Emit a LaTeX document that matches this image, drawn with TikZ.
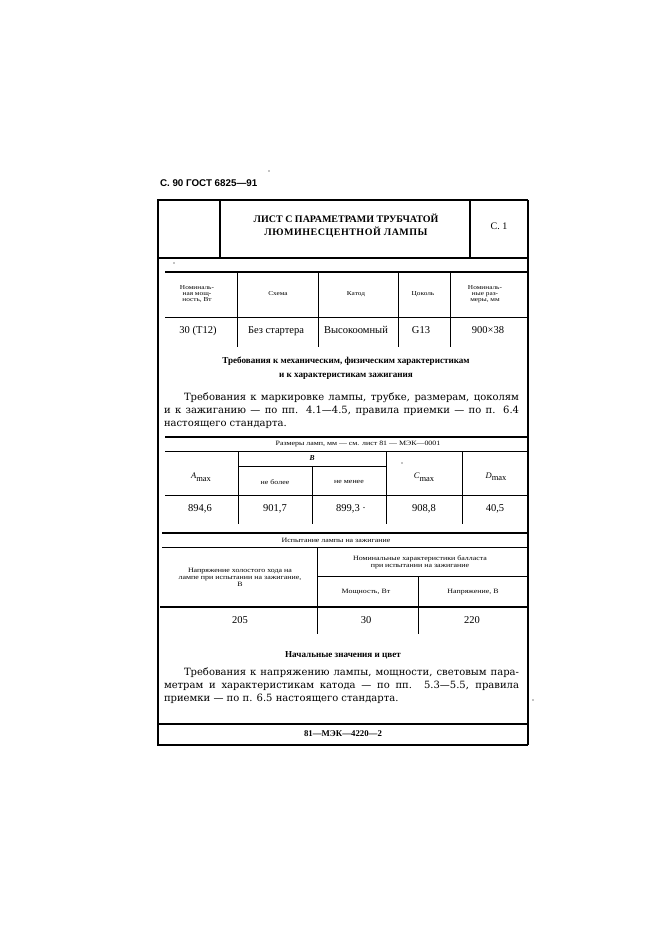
\documentclass[tikz,border=0pt]{standalone}
\usepackage{fontspec}
\setmainfont{Liberation Serif}
\newfontfamily\bodyf{DejaVu Serif}
\newfontfamily\titf{Liberation Sans}
\newfontfamily\widef{Liberation Serif}[FakeStretch=1.2]
\begin{document}
\begin{tikzpicture}[x=1pt,y=-1pt,
  frame/.style={line width=1.3pt},
  rightframe/.style={line width=1.8pt},
  rule/.style={line width=0.7pt},
  thickrule/.style={line width=1.1pt},
  txt/.style={inner sep=0pt, outer sep=0pt, align=center},
  oneline/.style={txt, text height=6pt, text depth=1.5pt},
  tinyhdr/.style={txt, font=\widef\fontsize{6.1}{6.3}\selectfont},
  smallhdr/.style={txt, font=\widef\fontsize{6.6}{7}\selectfont},
  datatxt/.style={oneline, text height=7.5pt, text depth=2.5pt, font=\fontsize{10.5}{11}\selectfont},
  boldhead/.style={oneline, font=\bfseries\fontsize{9.1}{13}\selectfont},
  para/.style={inner sep=0pt, outer sep=0pt, anchor=west, text height=7.5pt, text depth=2.5pt, font=\bodyf\fontsize{10}{12}\selectfont},
  speck/.style={fill=black, inner sep=0pt, minimum size=1.2pt, circle}
]
\useasboundingbox (0,0) rectangle (661,935);

% page header
\node[txt, anchor=west, font=\titf\bfseries\fontsize{9.8}{10}\selectfont] (title) at (160,183) {С. 90 ГОСТ 6825—91};
\node[speck] (s1) at (269,171) {};

% outer frame
\coordinate (TL) at (158,200);
\coordinate (TR) at (528,200);
\coordinate (BL) at (158,745);
\coordinate (BR) at (528,745);
\draw[frame] (TR) -- (TL) -- (BL) -- (BR);
\draw[rightframe] (TR) -- (BR);

% title block
\draw[frame] (220,200) -- (220,258);
\draw[frame] (470,200) -- (470,258);
\draw[frame] (158,258) -- (528,258);
\node[oneline, font=\bfseries\fontsize{10}{10}\selectfont] (h1) at (346,220) {ЛИСТ С ПАРАМЕТРАМИ ТРУБЧАТОЙ};
\node[oneline, font=\bfseries\fontsize{10}{10}\selectfont\addfontfeature{LetterSpace=5}] (h2) at (346,233) {ЛЮМИНЕСЦЕНТНОЙ ЛАМПЫ};
\node[oneline, font=\fontsize{10}{10}\selectfont] (c1) at (499,227) {С. 1};
\node[speck] (s2) at (174,263) {};

% table 1
\draw[thickrule] (165,272) -- (528,272);
\draw[rule] (165,317) -- (528,317);
\foreach \xx in {237,318,398,450} \draw[rule] (\xx,272) -- (\xx,347);
\node[tinyhdr] (t1a) at (197,294) {Номиналь-\\ная мощ-\\ность, Вт};
\node[tinyhdr] (t1b) at (278,294) {Схема};
\node[tinyhdr] (t1c) at (356,294) {Катод};
\node[tinyhdr] (t1d) at (423,294) {Цоколь};
\node[tinyhdr] (t1e) at (485,294) {Номиналь-\\ные раз-\\меры, мм};
\node[datatxt] (d1a) at (198,331) {30 (T12)};
\node[datatxt] (d1b) at (276,331) {Без стартера};
\node[datatxt] (d1c) at (356,331) {Высокоомный};
\node[datatxt] (d1d) at (421,331) {G13};
\node[datatxt] (d1e) at (488,331) {900×38};

% heading
\node[boldhead] (m1) at (346,361) {Требования к механическим, физическим характеристикам};
\node[boldhead] (m2) at (346,375) {и к характеристикам зажигания};

% paragraph 1
\node[para] (p1) at (164,398) {\makebox[355pt][s]{\hspace*{20pt}Требования к маркировке лампы, трубке, размерам, цоколям}};
\node[para] (p2) at (164,411) {\makebox[355pt][s]{и к зажиганию — по пп. 4.1—4.5, правила приемки — по п. 6.4}};
\node[para] (p3) at (164,424) {настоящего стандарта.};

% table 2
\draw[thickrule] (165,437) -- (528,437);
\node[smallhdr] (r0) at (358,444) {Размеры ламп, мм — см. лист 81 — МЭК—0001};
\draw[rule] (165,451) -- (528,451);
\foreach \xx in {238,386,462} \draw[rule] (\xx,451) -- (\xx,524);
\draw[rule] (238,466) -- (386,466);
\draw[rule] (312,466) -- (312,524);
\node[txt, font=\bfseries\itshape\fontsize{7.5}{8}\selectfont] (bh) at (312,458) {B};
\node[speck] (s3) at (402,463) {};
\node[txt, font=\fontsize{8.5}{9}\selectfont] (ah) at (201,477) {\textit{A}\raisebox{-2.5pt}{max}};
\node[smallhdr] (nb) at (275,482) {не более};
\node[smallhdr] (nm) at (349,482) {не менее};
\node[txt, font=\fontsize{8.5}{9}\selectfont] (ch) at (424,477) {\textit{C}\raisebox{-2.5pt}{max}};
\node[txt, font=\fontsize{8.5}{9}\selectfont] (dh) at (496,477) {\textit{D}\raisebox{-2.5pt}{max}};
\draw[rule] (165,495) -- (528,495);
\node[datatxt] (d2a) at (200,509) {894,6};
\node[datatxt] (d2b) at (275,509) {901,7};
\node[datatxt] (d2c) at (351,509) {899,3 ·};
\node[datatxt] (d2d) at (424,509) {908,8};
\node[datatxt] (d2e) at (495,509) {40,5};

% table 3
\draw[thickrule] (162,533) -- (528,533);
\node[smallhdr] (i0) at (336,540) {Испытание лампы на зажигание};
\draw[rule] (162,547) -- (528,547);
\draw[rule] (317,547) -- (317,634);
\draw[rule] (317,576) -- (528,576);
\draw[rule] (418,576) -- (418,634);
\node[smallhdr] (i1) at (240,577) {Напряжение холостого хода на\\лампе при испытании на зажигание,\\В};
\node[smallhdr] (i2) at (420,562) {Номинальные характеристики балласта\\при испытании на зажигание};
\node[smallhdr] (i3) at (366,592) {Мощность, Вт};
\node[smallhdr] (i4) at (473,592) {Напряжение, В};
\draw[thickrule] (160,607) -- (528,607);
\node[datatxt] (d3a) at (240,621) {205};
\node[datatxt] (d3b) at (366,621) {30};
\node[datatxt] (d3c) at (472,621) {220};

% heading 2
\node[boldhead] (n1) at (343,655) {Начальные значения и цвет};

% paragraph 2
\node[para] (q1) at (164,673) {\makebox[355pt][s]{\hspace*{20pt}Требования к напряжению лампы, мощности, световым пара-}};
\node[para] (q2) at (164,686) {\makebox[355pt][s]{метрам и характеристикам катода — по пп. 5.3—5.5, правила}};
\node[para] (q3) at (164,699) {приемки — по п. 6.5 настоящего стандарта.};
\node[speck] (s4) at (533,700) {};

% footer
\draw[thickrule] (158,724) -- (528,724);
\node[oneline, font=\bfseries\fontsize{8.8}{9}\selectfont] (f1) at (343,734) {81—МЭК—4220—2};
\end{tikzpicture}
\end{document}
